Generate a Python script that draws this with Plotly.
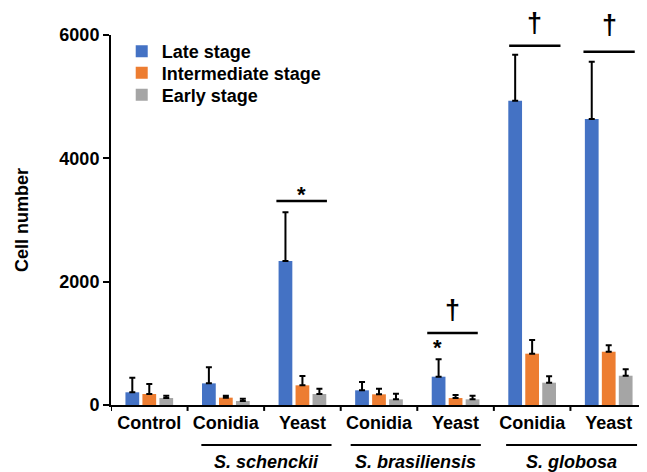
import plotly.graph_objects as go

categories = ["Control", "Conidia_Ss", "Yeast_Ss", "Conidia_Sb", "Yeast_Sb", "Conidia_Sg", "Yeast_Sg"]
tick_labels = ["Control", "Conidia", "Yeast", "Conidia", "Yeast", "Conidia", "Yeast"]

late = [206, 351, 2335, 238, 459, 4934, 4638]
late_err = [237, 260, 790, 135, 282, 747, 929]
inter = [178, 119, 319, 173, 113, 832, 864]
inter_err = [162, 32, 151, 92, 49, 222, 104]
early = [113, 65, 178, 92, 92, 362, 475]
early_err = [38, 37, 87, 92, 59, 103, 104]

series = [
    ("Late stage", late, late_err, "#4472C4"),
    ("Intermediate stage", inter, inter_err, "#ED7D31"),
    ("Early stage", early, early_err, "#A5A5A5"),
]

FONT = "Arial, 'Liberation Sans', sans-serif"
YMAX = 6000

fig = go.Figure()
legend_ids = ["legend", "legend2", "legend3"]
for (name, vals, errs, col), lid in zip(series, legend_ids):
    fig.add_trace(go.Bar(
        name="<b>%s</b>" % name, x=list(range(len(categories))), y=vals,
        marker=dict(color=col, line=dict(width=0)), legend=lid,
        error_y=dict(type="data", array=errs, arrayminus=[0] * len(errs), symmetric=False,
                     color="black", thickness=2, width=3),
    ))

shapes = []
annotations = []

# significance markers: (category index, x offset left, x offset right, line y, symbol, symbol y)
sig = [
    (2, -0.34, 0.32, 3308, "*", 3420),
    (4, -0.37, 0.29, 1168, "†", 1540),
    (5, -0.30, 0.37, 5826, "†", 6194),
    (6, -0.33, 0.34, 5729, "†", 6162),
]
for ci, l, r, ly, sym, sy in sig:
    shapes.append(dict(type="line", xref="x", yref="y", x0=ci + l, x1=ci + r, y0=ly, y1=ly,
                       line=dict(color="black", width=2.5)))
    annotations.append(dict(x=ci + (l + r) / 2, y=sy / YMAX, xref="x", yref="paper", text="<b>%s</b>" % sym,
                            showarrow=False, yanchor="middle",
                            font=dict(size=22 if sym == "*" else 27, family=FONT, color="black")))
# extra star above S. brasiliensis yeast late bar
annotations.append(dict(x=4 - 0.24, y=930 / YMAX, xref="x", yref="paper", text="<b>*</b>", showarrow=False,
                        yanchor="middle", font=dict(size=22, family=FONT, color="black")))

# species group labels
groups = [
    ("S. schenckii", 0.68, 2.38),
    ("S. brasiliensis", 2.63, 4.33),
    ("S. globosa", 4.66, 6.37),
]
for name, a, b in groups:
    shapes.append(dict(type="line", xref="x", yref="paper", x0=a, x1=b, y0=-0.108, y1=-0.108,
                       line=dict(color="black", width=2)))
    annotations.append(dict(x=(a + b) / 2, y=-0.153, xref="x", yref="paper", text="<b><i>%s</i></b>" % name,
                            showarrow=False, yanchor="middle",
                            font=dict(size=18, family=FONT, color="black")))

# boundary ticks for the categorical x axis
for i in range(len(categories) + 1):
    shapes.append(dict(type="line", xref="x", yref="paper", x0=i - 0.5, x1=i - 0.5, y0=0, y1=-0.016,
                       line=dict(color="black", width=2)))

legend_style = dict(x=0.02, xanchor="left", yanchor="middle", bgcolor="rgba(0,0,0,0)",
                    font=dict(size=18, family=FONT, color="black"), itemwidth=30)
fig.update_layout(
    width=639, height=464,
    margin=dict(l=103, r=0, t=27, b=67),
    paper_bgcolor="white", plot_bgcolor="white",
    barmode="group", bargap=0.335, bargroupgap=0.19,
    font=dict(family=FONT, color="black"),
    shapes=shapes, annotations=annotations,
    legend=dict(y=0.955, **legend_style),
    legend2=dict(y=0.897, **legend_style),
    legend3=dict(y=0.838, **legend_style),
    showlegend=True,
    xaxis=dict(
        tickmode="array", tickvals=list(range(len(categories))), ticktext=["<b>%s</b>" % t for t in tick_labels],
        range=[-0.5, 6.5], showline=True, linecolor="black", linewidth=2,
        ticks="", tickfont=dict(size=18, family=FONT, color="black"), showgrid=False, zeroline=False,
    ),
    yaxis=dict(
        range=[0, YMAX], tickvals=[0, 2000, 4000, 6000], ticktext=["<b>0</b>", "<b>2000</b>", "<b>4000</b>", "<b>6000</b>"],
        showline=True, linecolor="black", linewidth=2, ticks="outside", ticklen=6, tickwidth=2,
        tickcolor="black", tickfont=dict(size=18, family=FONT, color="black"), showgrid=False, zeroline=False,
        title=dict(text="<b>Cell number</b>", font=dict(size=18, family=FONT, color="black"), standoff=26),
    ),
)

fig.write_html("out.html")
